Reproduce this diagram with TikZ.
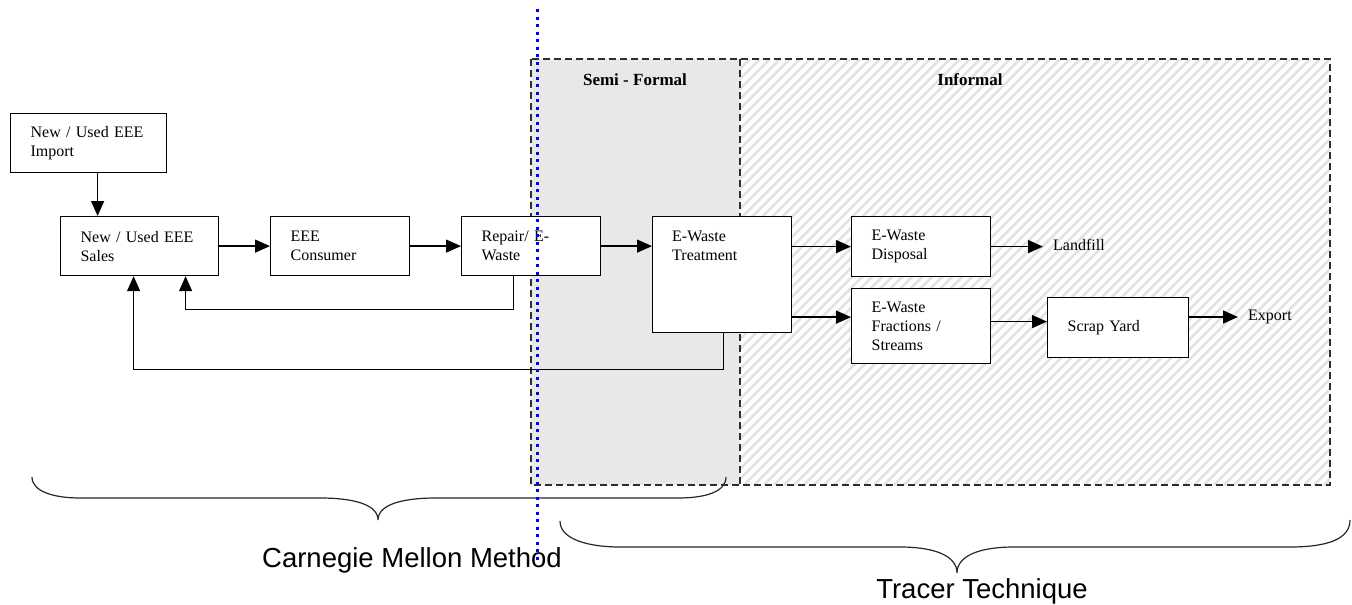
\documentclass[tikz,border=0pt]{standalone}
\usepackage{fontspec}
\setmainfont{Liberation Serif}
\newfontfamily\bracefont{Liberation Sans}
\usetikzlibrary{arrows.meta}
\definecolor{semigray}{RGB}{232,232,232}
\definecolor{hatchgray}{RGB}{226,226,226}
\definecolor{framegray}{RGB}{45,45,45}

\begin{document}
\begin{tikzpicture}[x=1pt,y=-1pt,
    box/.style={draw, fill=white, line width=1.2pt, anchor=north west, align=left,
      inner xsep=20pt, font=\fontsize{16}{19}\selectfont},
    boxtext/.style={anchor=north west, align=left, inner sep=0pt, font=\fontsize{16}{19}\selectfont},
    endpoint/.style={anchor=west, inner xsep=10pt, inner ysep=0pt, font=\fontsize{16}{19}\selectfont},
    flow/.style={line width=1.3pt, -{Triangle[length=15pt,width=13pt]}},
    region/.style={font=\bfseries\fontsize{17}{20}\selectfont},
    method/.style={anchor=base, font=\bracefont\fontsize{27.5}{32}\selectfont},
    bracket/.style={line width=1.2pt, black!85}]
  \useasboundingbox (0,0) rectangle (1352,605);

  \fill[semigray] (531,59) rectangle (740,485);
  \begin{scope}
    \clip (740,59) rectangle (1330,485);
    \foreach \i in {314,324,...,1334}
      \draw[hatchgray, line width=2.6pt] (\i,485) -- ++(426,-426);
  \end{scope}
  \draw[framegray, line width=1.5pt, dash pattern=on 7pt off 4pt]
    (531,59) rectangle (1330,485) (740,59) -- (740,485);
  \node[region] (semilabel) at (635,80) {Semi - Formal};
  \node[region] (infolabel) at (970,80) {Informal};

  \node[box, text width=116pt, minimum height=59pt] (import) at (10,113) {New / Used EEE\\Import};
  \node[box, text width=118pt, minimum height=59pt] (sales) at (60,216) {New / Used EEE\\Sales};
  \node[box, text width=99pt, minimum height=59pt] (consumer) at (270,216) {EEE\\Consumer};
  \node[box, text width=99pt, minimum height=59pt] (repair) at (461,216) {Repair/ E-\\Waste};
  \node[box, text width=99pt, minimum height=116pt] (treat) at (652,216) {};
  \node[boxtext] (treattext) at (672,231) {E-Waste\\Treatment};
  \node[box, text width=99pt, minimum height=60pt] (disposal) at (851,216) {E-Waste\\Disposal};
  \node[box, text width=99pt, minimum height=75pt] (fractions) at (851,288) {E-Waste\\Fractions /\\Streams};
  \node[box, text width=101pt, minimum height=60pt] (scrap) at (1047,297) {Scrap Yard};
  \node[endpoint] (landfill) at (1043,245) {Landfill};
  \node[endpoint] (export) at (1238,317) {Export};

  \path (import.south) ++(9,0) coordinate (imp);
  \path (fractions.west) ++(0,-9) coordinate (frin);
  \path (scrap.west) ++(0,-6) coordinate (scin);
  \begin{scope}
    \draw[flow] (imp) -- (imp |- sales.north);
    \draw[flow] (sales) -- (consumer);
    \draw[flow] (consumer) -- (repair);
    \draw[flow] (repair.east) -- (repair.east -| treat.west);
    \draw[flow] (disposal.west -| treat.east) -- (disposal.west);
    \draw[flow] (frin -| treat.east) -- (frin);
    \draw[flow] (disposal.east) -- (disposal.east -| landfill.west);
    \draw[flow] (scin -| fractions.east) -- (scin);
    \draw[flow] (export.west -| scrap.east) -- (export.west);
    \draw[flow] ([xshift=-17.5pt]repair.south) -- ++(0,33) -| ([xshift=46pt]sales.south);
    \draw[flow] ([xshift=1.5pt]treat.south) -- ++(0,36) -| ([xshift=-6pt]sales.south);
  \end{scope}

  \draw[bracket] (32,477) .. controls (32,492) and (55,498) .. (80,498) -- (320,498)
    .. controls (355,498) and (378,505) .. (378,520)
    .. controls (378,505) and (401,498) .. (436,498) -- (678,498)
    .. controls (705,498) and (726,492) .. (726,477);
  \draw[bracket] (560,521) .. controls (560,540) and (590,547) .. (620,547) -- (900,547)
    .. controls (935,547) and (957,556) .. (957,573)
    .. controls (957,556) and (979,547) .. (1014,547) -- (1290,547)
    .. controls (1330,547) and (1350,538) .. (1350,520);
  \node[method] (cmu) at (412,567) {Carnegie Mellon Method};
  \node[method] (tracer) at (982,598) {Tracer Technique};

  \draw[blue, line width=3pt, dash pattern=on 3pt off 4.5pt] (537,9) -- (537,563);
\end{tikzpicture}
\end{document}
